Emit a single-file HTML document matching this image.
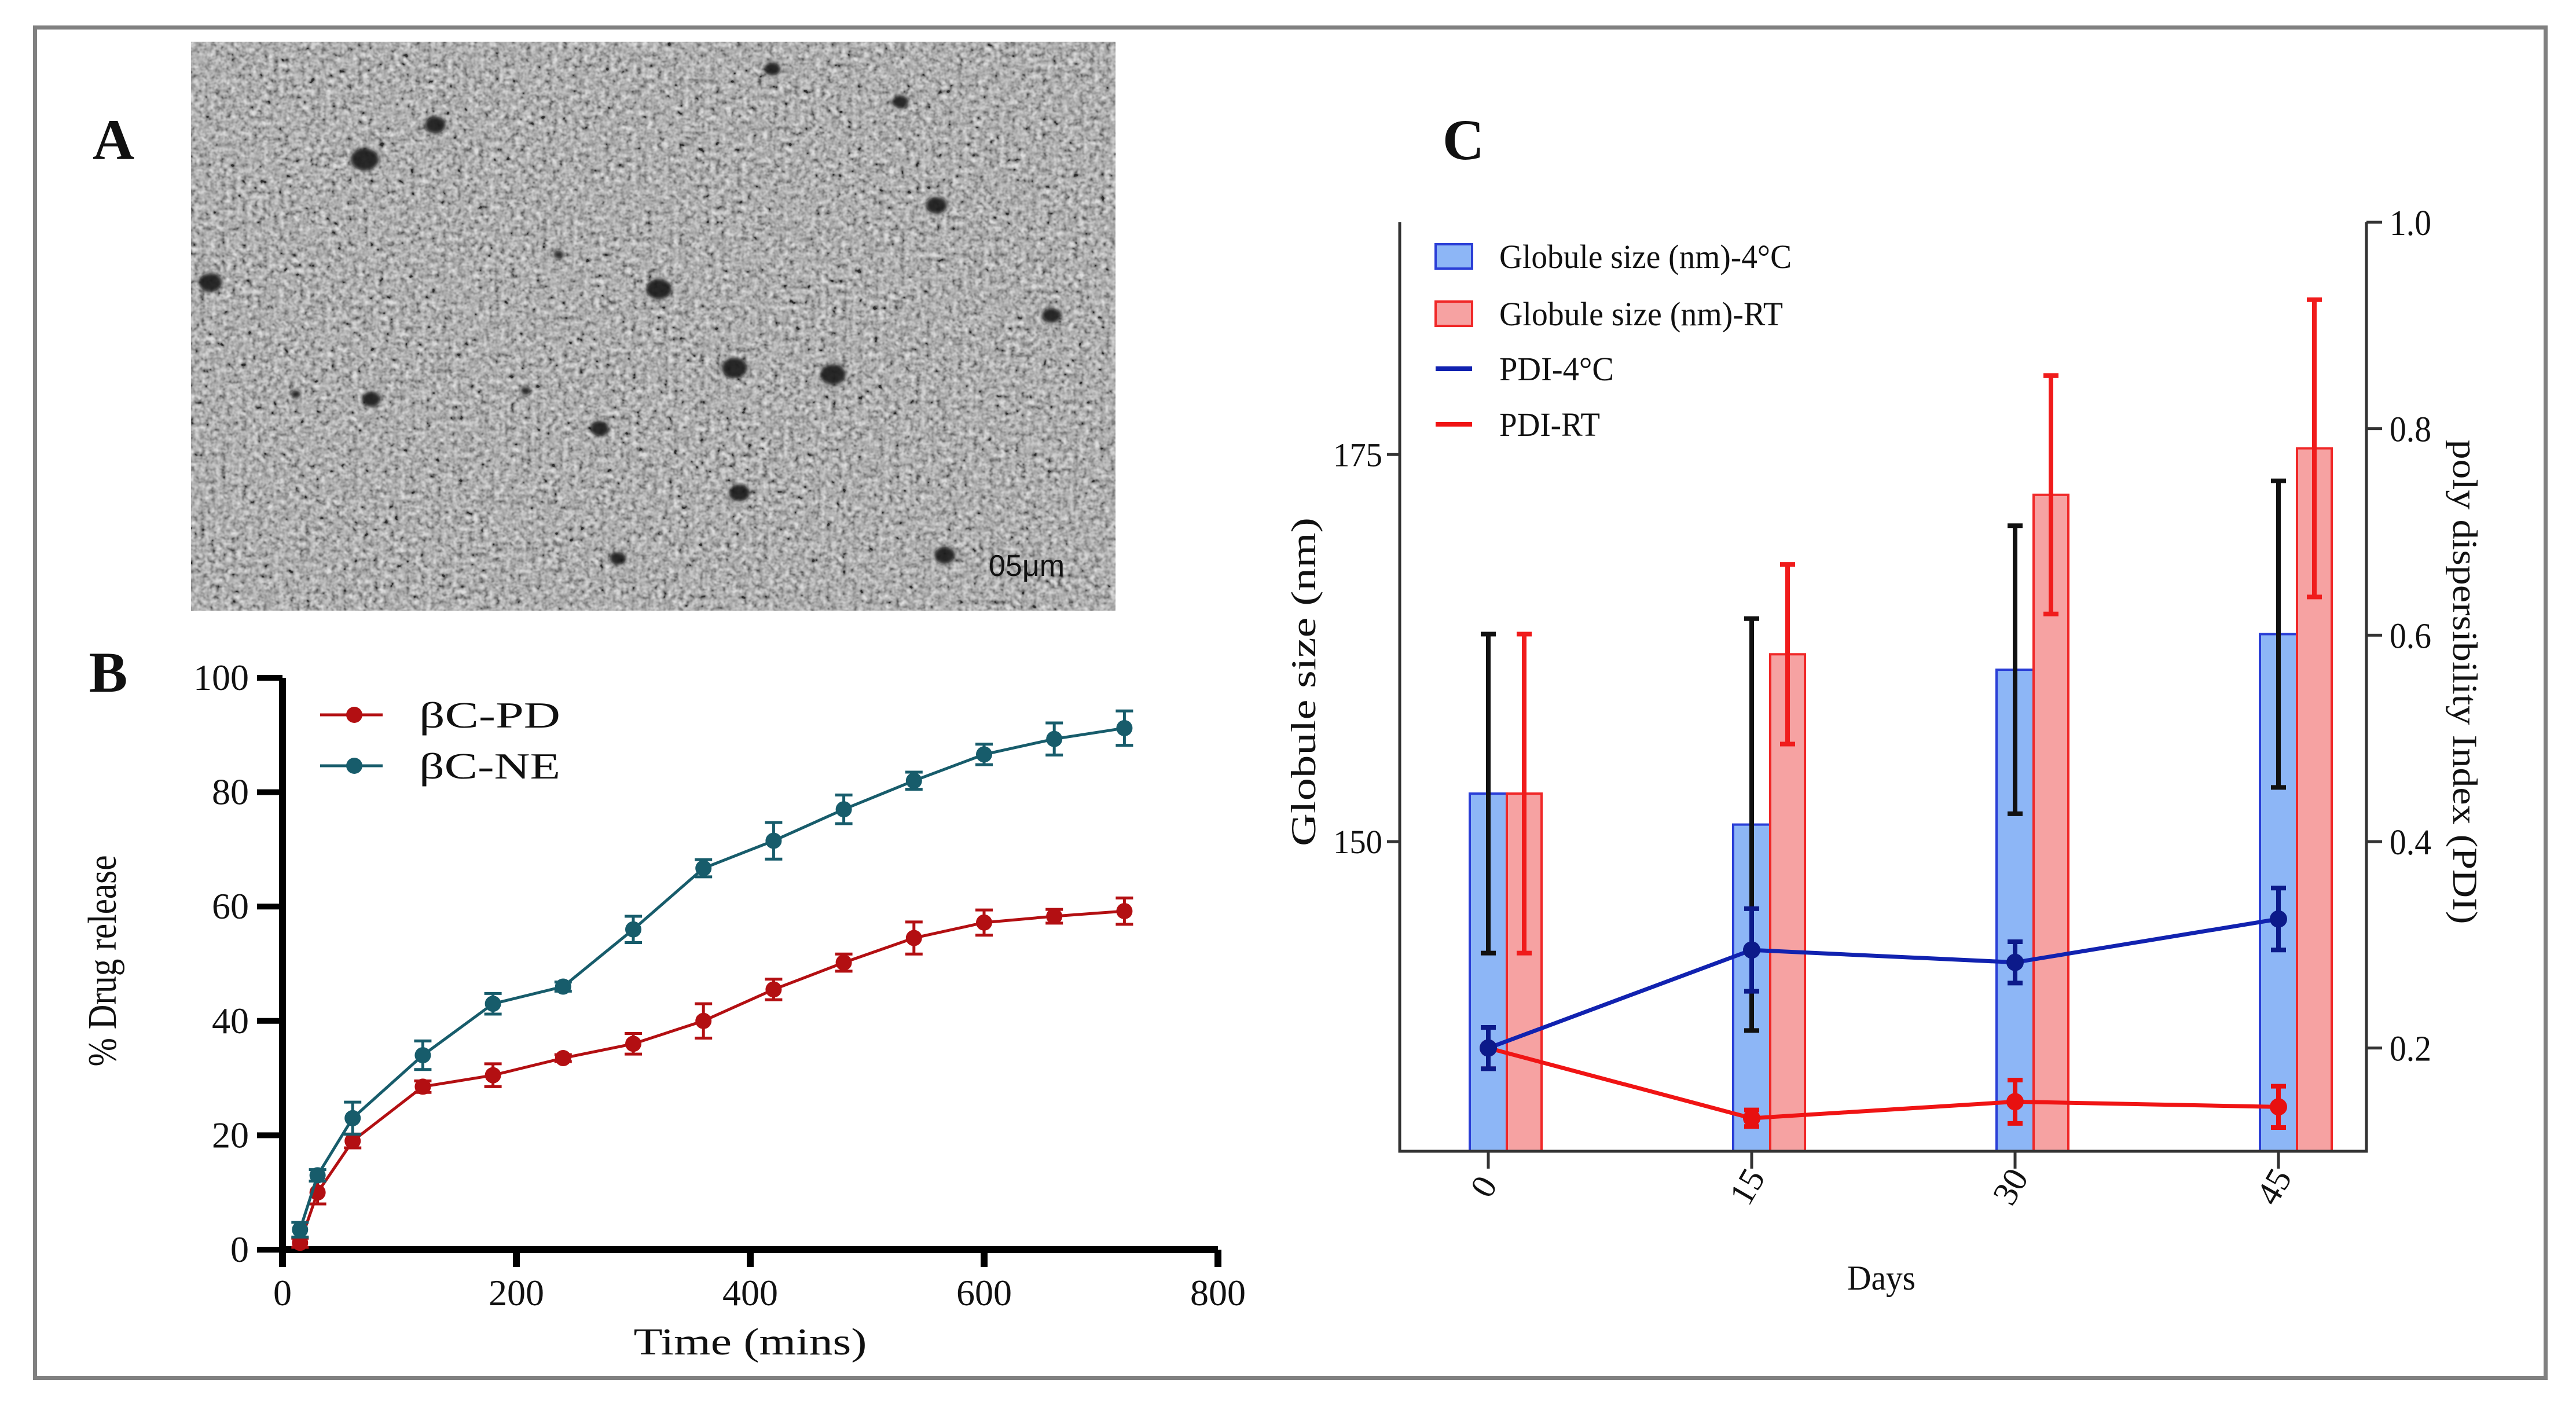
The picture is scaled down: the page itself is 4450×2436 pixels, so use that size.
<!DOCTYPE html>
<html><head><meta charset="utf-8"><style>
html,body{margin:0;padding:0;background:#fff;}
svg{display:block;}
text{font-family:"Liberation Serif",serif;fill:#111;}
</style></head><body>
<svg id="fig" width="4450" height="2436" viewBox="0 0 4450 2436" xmlns="http://www.w3.org/2000/svg" font-family="Liberation Serif, serif">
<defs>
<filter id="noise" x="0" y="0" width="100%" height="100%">
<feTurbulence type="fractalNoise" baseFrequency="0.11" numOctaves="2" seed="3" result="t"/>
<feColorMatrix type="matrix" values="0.33 0.33 0.33 0 0  0.33 0.33 0.33 0 0  0.33 0.33 0.33 0 0  0 0 0 0 1" result="g"/>
<feComponentTransfer><feFuncR type="linear" slope="2.4" intercept="-0.7"/><feFuncG type="linear" slope="2.4" intercept="-0.7"/><feFuncB type="linear" slope="2.4" intercept="-0.7"/></feComponentTransfer>
</filter>
<filter id="blur"><feGaussianBlur stdDeviation="3"/></filter>
</defs>
<rect x="60.5" y="47.5" width="4337" height="2333" fill="none" stroke="#808080" stroke-width="7"/>

<!-- Panel A -->
<text x="196" y="275" font-size="100" font-weight="bold" text-anchor="middle">A</text>
<g>
<rect x="330" y="72" width="1597" height="983" fill="#939393"/>
<rect x="330" y="72" width="1597" height="983" filter="url(#noise)" opacity="0.7"/>
<g id="blobs" filter="url(#blur)"></g>
<text x="1708" y="995" font-size="52" font-family="Liberation Sans, sans-serif" style="font-family:'Liberation Sans',sans-serif" fill="#111">05μm</text>
</g>

<!-- Panel B -->
<text x="187" y="1195" font-size="100" font-weight="bold" text-anchor="middle">B</text>
<g id="chartB"></g>

<!-- Panel C -->
<text x="2528" y="275" font-size="100" font-weight="bold" text-anchor="middle">C</text>
<g id="chartC"></g>
</svg>
<script>
// ---------- Panel B data ----------
const bTimes = [15,30,60,120,180,240,300,360,420,480,540,600,660,720];
const bPD = [1.2,10,19,28.5,30.5,33.5,36,40,45.5,50.2,54.5,57.2,58.3,59.2];
const bPDerr = [0.8,2,1.2,1,2,0.6,1.8,3,1.8,1.5,2.8,2.2,1.2,2.3];
const bNE = [3.5,13,23,34,43,46,56,66.7,71.5,77,82,86.6,89.3,91.2];
const bNEerr = [1.3,1,2.8,2.5,1.8,0.8,2.3,1.5,3.2,2.5,1.5,1.8,2.8,3];
const bXTicks = [0,200,400,600,800];
const bYTicks = [0,20,40,60,80,100];
// ---------- Panel C data ----------
const cDays = ["0","15","30","45"];
const cSize4 = [153.1,151.1,161.1,163.4];
const cSize4err = [10.3,13.3,9.3,9.9];
const cSizeRT = [153.1,162.1,172.4,175.4];
const cSizeRTerr = [10.3,5.8,7.7,9.6];
const cPDI4 = [0.2,0.295,0.283,0.325];
const cPDI4err = [0.02,0.04,0.02,0.03];
const cPDIRT = [0.2,0.132,0.148,0.143];
const cPDIRTerr = [0.02,0.008,0.021,0.02];
const cLeftTicks = [150,175];
const cRightTicks = [0.2,0.4,0.6,0.8,1.0];

const NS="http://www.w3.org/2000/svg";
function mk(tag,attrs,parent){const e=document.createElementNS(NS,tag);for(const k in attrs)e.setAttribute(k,attrs[k]);if(tag==='text')e.setAttribute('font-family','Liberation Serif, serif');parent.appendChild(e);return e;}

// blobs for TEM image
const blobs=document.getElementById('blobs');
const blobPos=[[222,97,12],[265,76,9],[128,172,10],[401,176,11],[447,224,11],[507,228,11],[226,243,8],[365,261,8],[450,300,9],[570,125,9],[640,192,8],[548,62,7],[575,338,9],[376,340,7],[470,42,7],[320,238,4],[180,240,4],[340,155,4]];
blobPos.forEach(p=>{
  const c=mk('ellipse',{cx:p[0]*2.838,cy:p[1]*2.838,rx:p[2]*2.0,ry:p[2]*1.6,fill:'#1a1a1a',opacity:'0.9'},blobs);
  
  
});

// ---------- Chart B ----------
(function(){
const g=document.getElementById('chartB');
const X0=488,X1=2104,Y0=2159,Y1=1171;
const sx=v=>X0+(v-0)/(800-0)*(X1-X0);
const sy=v=>Y0-(v-0)/(100-0)*(Y0-Y1);
const ax=mk('path',{d:`M${X0} ${Y1} V${Y0} H${X1}`,fill:'none',stroke:'#000','stroke-width':12},g);


bYTicks.forEach(v=>{
  mk('line',{x1:X0-44,x2:X0,y1:sy(v),y2:sy(v),stroke:'#000','stroke-width':10},g);
  const t=mk('text',{x:X0-58,y:sy(v)+21,'font-size':64,'text-anchor':'end'},g);
  t.textContent=v;
  
  
});
bXTicks.forEach(v=>{
  mk('line',{x1:sx(v),x2:sx(v),y1:Y0,y2:Y0+30,stroke:'#000','stroke-width':12},g);
  const t=mk('text',{x:sx(v),y:Y0+96,'font-size':64,'text-anchor':'middle'},g);
  t.textContent=v;
  
  
});
const xt=mk('text',{x:1296,y:2340,'font-size':66,'text-anchor':'middle',textLength:403,lengthAdjust:'spacingAndGlyphs'},g);
xt.textContent='Time (mins)';


const yt=mk('text',{x:0,y:0,'font-size':70,'text-anchor':'middle',textLength:365,lengthAdjust:'spacingAndGlyphs',transform:'translate(200,1660) rotate(-90)'},g);
yt.textContent='% Drug release';


function series(vals,errs,color,name){
  const s=mk('g',{},g);
  
  
  mk('polyline',{points:bTimes.map((t,i)=>sx(t)+','+sy(vals[i])).join(' '),fill:'none',stroke:color,'stroke-width':5},s);
  bTimes.forEach((t,i)=>{
    const x=sx(t),a=sy(vals[i]+errs[i]),b=sy(vals[i]-errs[i]);
    mk('path',{d:`M${x} ${a}V${b}M${x-15} ${a}H${x+15}M${x-15} ${b}H${x+15}`,stroke:color,'stroke-width':5,fill:'none'},s);
    const c=mk('circle',{cx:x,cy:sy(vals[i]),r:14,fill:color},s);
    
    
  });
}
series(bPD,bPDerr,'#b30f12','series-bc-pd');
series(bNE,bNEerr,'#175c6b','series-bc-ne');
[['βC-PD','#b30f12',1235],['βC-NE','#175c6b',1323]].forEach(l=>{
  const lg=mk('g',{},g);
  
  
  mk('line',{x1:553,x2:661,y1:l[2],y2:l[2],stroke:l[1],'stroke-width':5},lg);
  mk('circle',{cx:612,cy:l[2],r:14,fill:l[1]},lg);
  const t=mk('text',{x:724,y:l[2]+22,'font-size':64,textLength:244,lengthAdjust:'spacingAndGlyphs'},lg);
  t.textContent=l[0];
})
})();

// ---------- Chart C ----------
(function(){
const g=document.getElementById('chartC');
const X0=2418,X1=4088,Y0=1989,Y1=384;
const ticksX=[2571,3026,3481,3936];
const xc=i=>ticksX[0]+i*(ticksX[1]-ticksX[0]);
const sl=v=>Y0-(v-130)/(190-130)*(Y0-Y1);
const sr=v=>Y0-(v-0.1)/(1.0-0.1)*(Y0-Y1);
const BW=64;
cDays.forEach((d,i)=>{
  const x=xc(i);
  const b1=mk('rect',{x:x-BW/2,y:sl(cSize4[i]),width:BW,height:Y0-sl(cSize4[i]),fill:'#8db6f6',stroke:'#2a3ed6','stroke-width':4},g);
  
  
  const b2=mk('rect',{x:x+BW/2,y:sl(cSizeRT[i]),width:60,height:Y0-sl(cSizeRT[i]),fill:'#f6a2a2',stroke:'#f02828','stroke-width':4},g);
  
  
});
function eb(x,v,e,sc,color,name){
  const a=sc(v+e),b=sc(v-e);
  const p=mk('path',{d:`M${x} ${a}V${b}M${x-13} ${a}H${x+13}M${x-13} ${b}H${x+13}`,stroke:color,'stroke-width':8,fill:'none'},g);
  
  
}
cDays.forEach((d,i)=>{
  eb(xc(i),cSize4[i],cSize4err[i],sl,'#111','errorbar-size-4c');
  eb(xc(i)+BW/2+30,cSizeRT[i],cSizeRTerr[i],sl,'#f01c1c','errorbar-size-rt');
});
function pdi(vals,errs,color,mcolor,name){
  const l=mk('polyline',{points:cDays.map((d,i)=>xc(i)+','+sr(vals[i])).join(' '),fill:'none',stroke:color,'stroke-width':7},g);
  
  
  cDays.forEach((d,i)=>{
    eb(xc(i),vals[i],errs[i],sr,mcolor,name+'-errorbar');
    const c=mk('circle',{cx:xc(i),cy:sr(vals[i]),r:15,fill:mcolor},g);
    
    
  });
}
pdi(cPDIRT,cPDIRTerr,'#f01414','#e81010','pdi-rt');
pdi(cPDI4,cPDI4err,'#1122b0','#0c1a8a','pdi-4c');
const ax=mk('path',{d:`M${X0} ${Y1} V${Y0} H${X1} V${Y1}`,fill:'none',stroke:'#333','stroke-width':5},g);


cLeftTicks.forEach(v=>{
  mk('line',{x1:X0-22,x2:X0,y1:sl(v),y2:sl(v),stroke:'#333','stroke-width':5},g);
  const t=mk('text',{x:X0-30,y:sl(v)+20,'font-size':58,'text-anchor':'end',textLength:85,lengthAdjust:'spacingAndGlyphs'},g);
  t.textContent=v;
  
  
});
cRightTicks.forEach(v=>{
  mk('line',{x1:X1,x2:X1+27,y1:sr(v),y2:sr(v),stroke:'#333','stroke-width':5},g);
  const t=mk('text',{x:X1+40,y:sr(v)+22,'font-size':62,textLength:72,lengthAdjust:'spacingAndGlyphs'},g);
  t.textContent=v.toFixed(1);
  
  
});
cDays.forEach((d,i)=>{
  mk('line',{x1:xc(i),x2:xc(i),y1:Y0,y2:Y0+30,stroke:'#333','stroke-width':5},g);
  const t=mk('text',{x:0,y:0,'font-size':60,'text-anchor':'middle',transform:`translate(${xc(i)-8},${2050}) rotate(-60)`,dy:20},g);
  t.textContent=d;
  
  
});
const xt=mk('text',{x:3250,y:2228,'font-size':60,'text-anchor':'middle',textLength:118,lengthAdjust:'spacingAndGlyphs'},g);
xt.textContent='Days';


const yl=mk('text',{x:0,y:0,'font-size':60,'text-anchor':'middle',textLength:568,lengthAdjust:'spacingAndGlyphs',transform:'translate(2272,1178) rotate(-90)'},g);
yl.textContent='Globule size (nm)';


const yr=mk('text',{x:0,y:0,'font-size':60,'text-anchor':'middle',textLength:837,lengthAdjust:'spacingAndGlyphs',transform:'translate(4238,1178) rotate(90)'},g);
yr.textContent='poly dispersibility Index  (PDI)';


const leg=[['Globule size (nm)-4°C','box','#8db6f6','#2a3ed6',443,505],['Globule size (nm)-RT','box','#f6a2a2','#f02828',542,490],['PDI-4°C','line','#1122b0','',637,198],['PDI-RT','line','#f01414','',733,174]];
leg.forEach(l=>{
  const lg=mk('g',{},g);
  
  
  if(l[1]==='box') mk('rect',{x:2480,y:l[4]-21,width:63,height:42,fill:l[2],stroke:l[3],'stroke-width':4},lg);
  else mk('line',{x1:2480,x2:2543,y1:l[4],y2:l[4],stroke:l[2],'stroke-width':8},lg);
  const t=mk('text',{x:2590,y:l[4]+20,'font-size':58,textLength:l[5],lengthAdjust:'spacingAndGlyphs'},lg);
  t.textContent=l[0];
});
})();
</script>
</body></html>
